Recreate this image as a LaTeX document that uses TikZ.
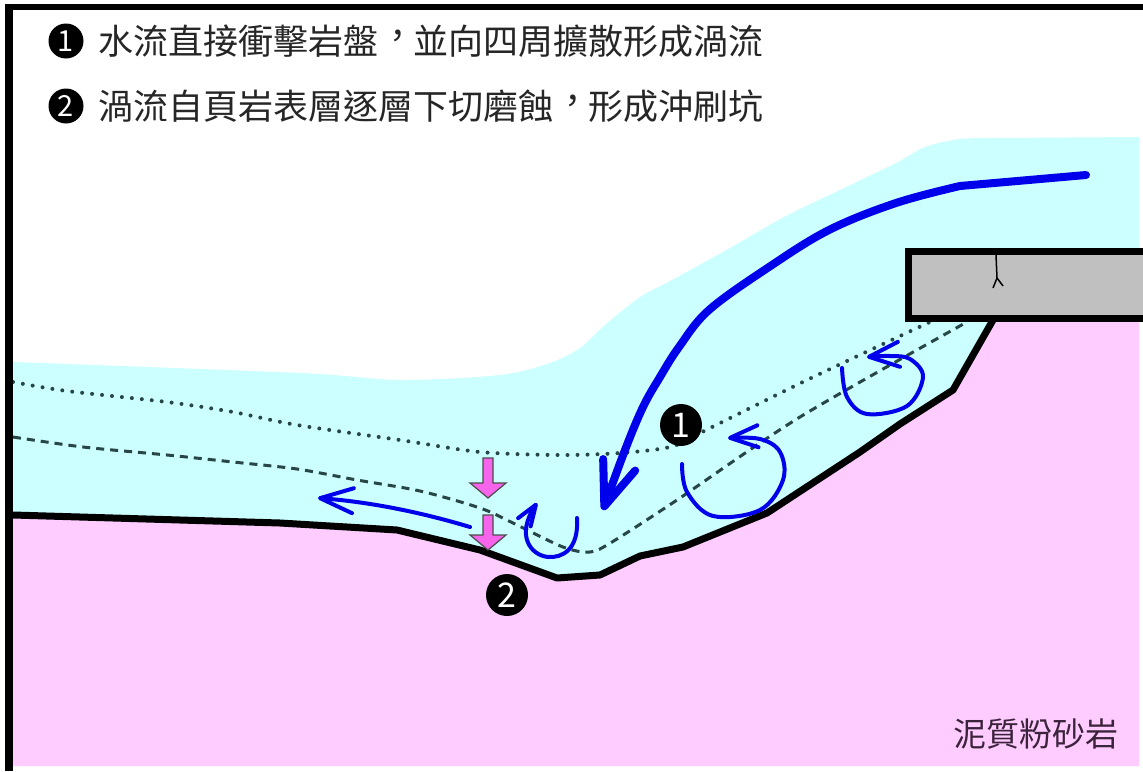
\documentclass[tikz,border=0pt]{standalone}
\usepackage{fontspec}
\usetikzlibrary{arrows.meta}
\newfontfamily\cjk{Noto Sans CJK TC}
\definecolor{water}{RGB}{204,255,255}
\definecolor{siltstone}{RGB}{255,204,255}
\definecolor{shale}{RGB}{192,192,192}
\definecolor{flow}{RGB}{0,0,235}
\definecolor{scour}{RGB}{245,100,235}
\definecolor{level}{RGB}{40,70,70}
\def\scourarrow(#1,#2)(#3){\draw[fill=scour, draw=black!70, line width=1.2] (#1-5,#2) -- (#1+5,#2) -- (#1+5,#2+#3) -- (#1+18,#2+#3) -- (#1,#2+#3+15) -- (#1-18,#2+#3) -- (#1-5,#2+#3) -- cycle;}
% comma set in the middle of its square
\def\midcomma{\makebox[35pt][l]{\hspace{2pt}\raisebox{6pt}{\makebox[0pt][l]{，}}}}
\tikzset{
	numdot/.style={circle, fill=black, text=white, inner sep=0pt, minimum size=#1},
	swirl/.style={flow, line width=4, line cap=round, line join=round}
}

\begin{document}
\begin{tikzpicture}[x=1pt, y=-1pt]
			%%%%% START %%%%%
			\useasboundingbox (0,0) rectangle (1143,771);
			\fill[white] (0,0) rectangle (1143,771);
			
			% water above the bed
			\fill[water] plot[smooth, tension=0.5] coordinates {(13,362) (300,373) (400,380) (500,375) (550,363) (580,348) (605,325) (640,297) (672,280) (730,248) (784,217) (840,190) (896,163) (925,147) (960,139) (1000,138)} -- (1139,137) -- (1139,766) -- (13,766) -- cycle;
			
			% siltstone below the bed
			\fill[siltstone] (13,515) -- (280,523) -- (397,530) -- (480,550) -- (557,578) -- (600,575) -- (640,556) -- (683,547) -- (767,513) -- (860,452) -- (900,424) -- (953,390) -- (993,320) -- (1139,320) -- (1139,766) -- (13,766) -- cycle;
			
			% old water levels
			\draw[level, line width=4, line cap=round, dash pattern=on 0pt off 10pt] plot[smooth, tension=0.5] coordinates {(13,382) (67,391) (167,402) (233,412) (297,425) (400,440) (480,452) (560,455) (620,453) (670,447) (700,433) (807,380) (930,322)};
			\draw[level, line width=3, dash pattern=on 8pt off 6pt] plot[smooth, tension=0.5] coordinates {(13,437) (83,447) (167,455) (233,462) (297,469) (357,480) (420,491) (480,508) (513,523) (563,547) (590,552) (612,542) (677,500) (800,417) (967,322)};
			
			% bed line
			\draw[line width=7, line join=round, line cap=round] (13,515) -- (280,523) -- (397,530) -- (480,550) -- (557,578) -- (600,575) -- (640,556) -- (683,547) -- (767,513) -- (860,452) -- (900,424) -- (953,390) -- (993,320);
			
			% shale slab with a crack
			\draw[line width=7, fill=shale] (908.5,251.5) rectangle (1150,318.5);
			\draw[line width=1.5] (996,255) -- (997,278) -- (993,288);
			\draw[line width=1.5] (997,278) -- (1003,286);
			
			% main flow
			\draw[flow, line width=8, line cap=round, line join=round, -{Straight Barb[length=44pt, width=34pt, round]}] (1086,175) -- (960,186) -- plot[smooth, tension=0.6] coordinates {(960,186) (896,203) (829,230) (769,267) (709,310) (679,347) (660,377) (643,407) (625,450) (603,510)};
			
			% eddies
			\draw[swirl, -{Straight Barb[length=33pt, width=25pt, round]}] (470,527) .. controls (420,512) and (370,502) .. (318,498);
			\draw[swirl, -{Straight Barb[length=21pt, width=15pt, round]}] (577,518) .. controls (579,550) and (562,558) .. (548,557) .. controls (530,555) and (516,535) .. (537,503);
			\draw[swirl, -{Straight Barb[length=28pt, width=22pt, round]}] plot[smooth, tension=0.6] coordinates {(682,464) (687,492) (713,516) (760,510) (783,480) (780,452) (760,439) (728,438)};
			\draw[swirl, -{Straight Barb[length=30pt, width=25pt, round]}] plot[smooth, tension=0.6] coordinates {(842,368) (847,397) (867,414) (907,406) (923,377) (910,359) (890,356) (867,357)};
			
			% downcutting
			\scourarrow(488,458)(25)
			\scourarrow(488,515)(20)
			
			\node[numdot=42pt, font=\cjk\fontsize{34}{34}\selectfont] (markone) at (681,425) {1};
			\node[numdot=42pt, font=\cjk\fontsize{34}{34}\selectfont] (marktwo) at (507,595) {2};
			
			% captions
			\node[numdot=35pt, font=\cjk\fontsize{29}{29}\selectfont] (hdone) at (66,41) {1};
			\node[numdot=35pt, font=\cjk\fontsize{29}{29}\selectfont] (hdtwo) at (66,106) {2};
			\node[anchor=west, inner sep=0pt, text=black!85, font=\cjk\fontsize{35}{35}\selectfont] (lineone) at (98,41) {水流直接衝擊岩盤\midcomma 並向四周擴散形成渦流};
			\node[anchor=west, inner sep=0pt, text=black!85, font=\cjk\fontsize{35}{35}\selectfont] (linetwo) at (98,106) {渦流自頁岩表層逐層下切磨蝕\midcomma 形成沖刷坑};
			\node[anchor=east, inner sep=0pt, text={rgb,255:red,60;green,35;blue,60}, font=\cjk\fontsize{33}{33}\selectfont] (rockname) at (1119,734) {泥質粉砂岩};
			
			% frame
			\fill[black] (5,4) rectangle (13,771);
			\fill[black] (5,4) rectangle (1143,10);
			%%%%% END %%%%%
\end{tikzpicture}
\end{document}
